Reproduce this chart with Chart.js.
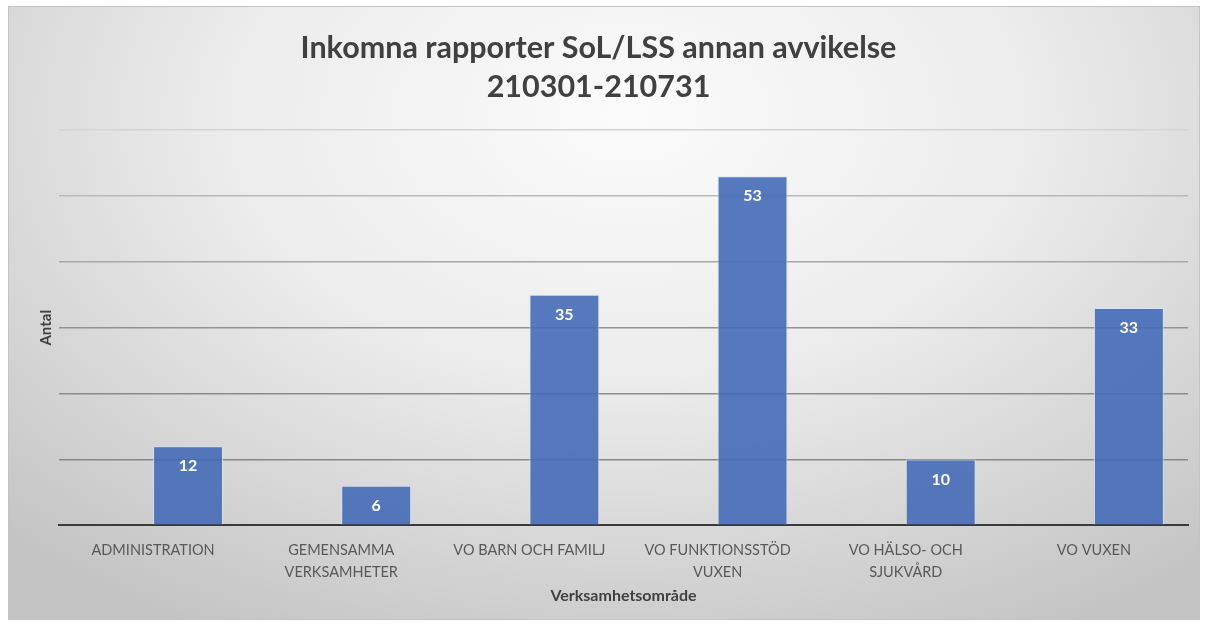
<!DOCTYPE html>
<html>
<head>
<meta charset="utf-8">
<script src="https://cdn.jsdelivr.net/npm/chart.js@4/dist/chart.umd.min.js"></script>
<style>
  html, body { margin: 0; padding: 0; background: #fff; }
  #frame {
    position: absolute; left: 8px; top: 6px;
    width: 1192px; height: 614px; box-sizing: border-box;
    border: 1px solid #c4c4c4;
    background: radial-gradient(ellipse 75% 95% at 52% 18%, #fbfbfb 0%, #ececec 45%, #d6d6d6 75%, #c4c4c4 100%);
  }
  #wrap { position: absolute; left: 0; top: 0; width: 1190px; height: 612px; }
</style>
</head>
<body>
<div id="frame"><div id="wrap"><canvas id="chart"></canvas></div></div>
<script>
const categories = [
  "ADMINISTRATION",
  ["GEMENSAMMA", "VERKSAMHETER"],
  "VO BARN OCH FAMILJ",
  ["VO FUNKTIONSSTÖD", "VUXEN"],
  ["VO HÄLSO- OCH", "SJUKVÅRD"],
  "VO VUXEN"
]
// Excel keeps an empty first series, so the real bars sit in the right half of each slot
const emptySeries = [null, null, null, null, null, null]
const antal = [12, 6, 35, 53, 10, 33]
const yTicks = [0, 10, 20, 30, 40, 50, 60]
const gridShade = { 10: "#878787", 20: "#8b8b8b", 30: "#929292", 40: "#a8a8a8", 50: "#b9b9b9", 60: "#d4d4d4" }

const valueLabels = {
  id: "valueLabels",
  afterDatasetsDraw(chart) {
    const ctx = chart.ctx
    const meta = chart.getDatasetMeta(1)
    ctx.save()
    ctx.font = "bold 16px Lato"
    ctx.fillStyle = "#ffffff"
    ctx.textAlign = "center"
    ctx.textBaseline = "middle"
    meta.data.forEach((bar, i) => {
      ctx.fillText(String(antal[i]), bar.x, bar.y + 20)
    })
    ctx.restore()
  }
}

new Chart(document.getElementById("chart"), {
  type: "bar",
  data: {
    labels: categories,
    datasets: [
      { label: "", data: emptySeries },
      {
        label: "Antal",
        data: antal,
        backgroundColor: "rgba(68,108,182,0.9)",
        borderColor: "rgba(215,226,244,0.85)",
        borderWidth: 1
      }
    ]
  },
  plugins: [valueLabels],
  options: {
    responsive: true,
    maintainAspectRatio: false,
    animation: false,
    categoryPercentage: 0.743,
    barPercentage: 1,
    layout: { padding: { left: 0, right: 11, top: 0, bottom: 14 } },
    plugins: {
      legend: { display: false },
      tooltip: { enabled: false },
      title: {
        display: true,
        text: ["Inkomna rapporter SoL/LSS annan avvikelse", "210301-210731"],
        color: "#404040",
        font: { family: "Lato", size: 30.5, weight: "bold", lineHeight: 1.28 },
        padding: { top: 22, bottom: 23 }
      }
    },
    scales: {
      x: {
        grid: { display: false, drawTicks: false },
        border: { display: true, color: "#3a3a3a", width: 2 },
        ticks: {
          color: "#595959",
          padding: 14,
          maxRotation: 0,
          font: { family: "Lato", size: 14.5, lineHeight: 1.52 }
        },
        title: {
          display: true,
          text: "Verksamhetsområde",
          color: "#404040",
          font: { family: "Lato", size: 16, weight: "bold", lineHeight: 1.1 },
          // ticks reserve padding twice in v4, so pull the title back up
          padding: { top: -10, bottom: 0 }
        }
      },
      y: {
        min: 0,
        max: 60,
        afterBuildTicks: scale => { scale.ticks = yTicks.map(v => ({ value: v })) },
        grid: {
          drawTicks: false,
          lineWidth: 1.5,
          color: c => gridShade[c.tick.value] || "rgba(0,0,0,0)"
        },
        border: { display: false },
        ticks: { display: false },
        title: {
          display: true,
          text: "Antal",
          color: "#404040",
          font: { family: "Lato", size: 15, weight: "bold", lineHeight: 1.2 },
          padding: { top: 28, bottom: 4 }
        }
      }
    }
  }
})
</script>
</body>
</html>
